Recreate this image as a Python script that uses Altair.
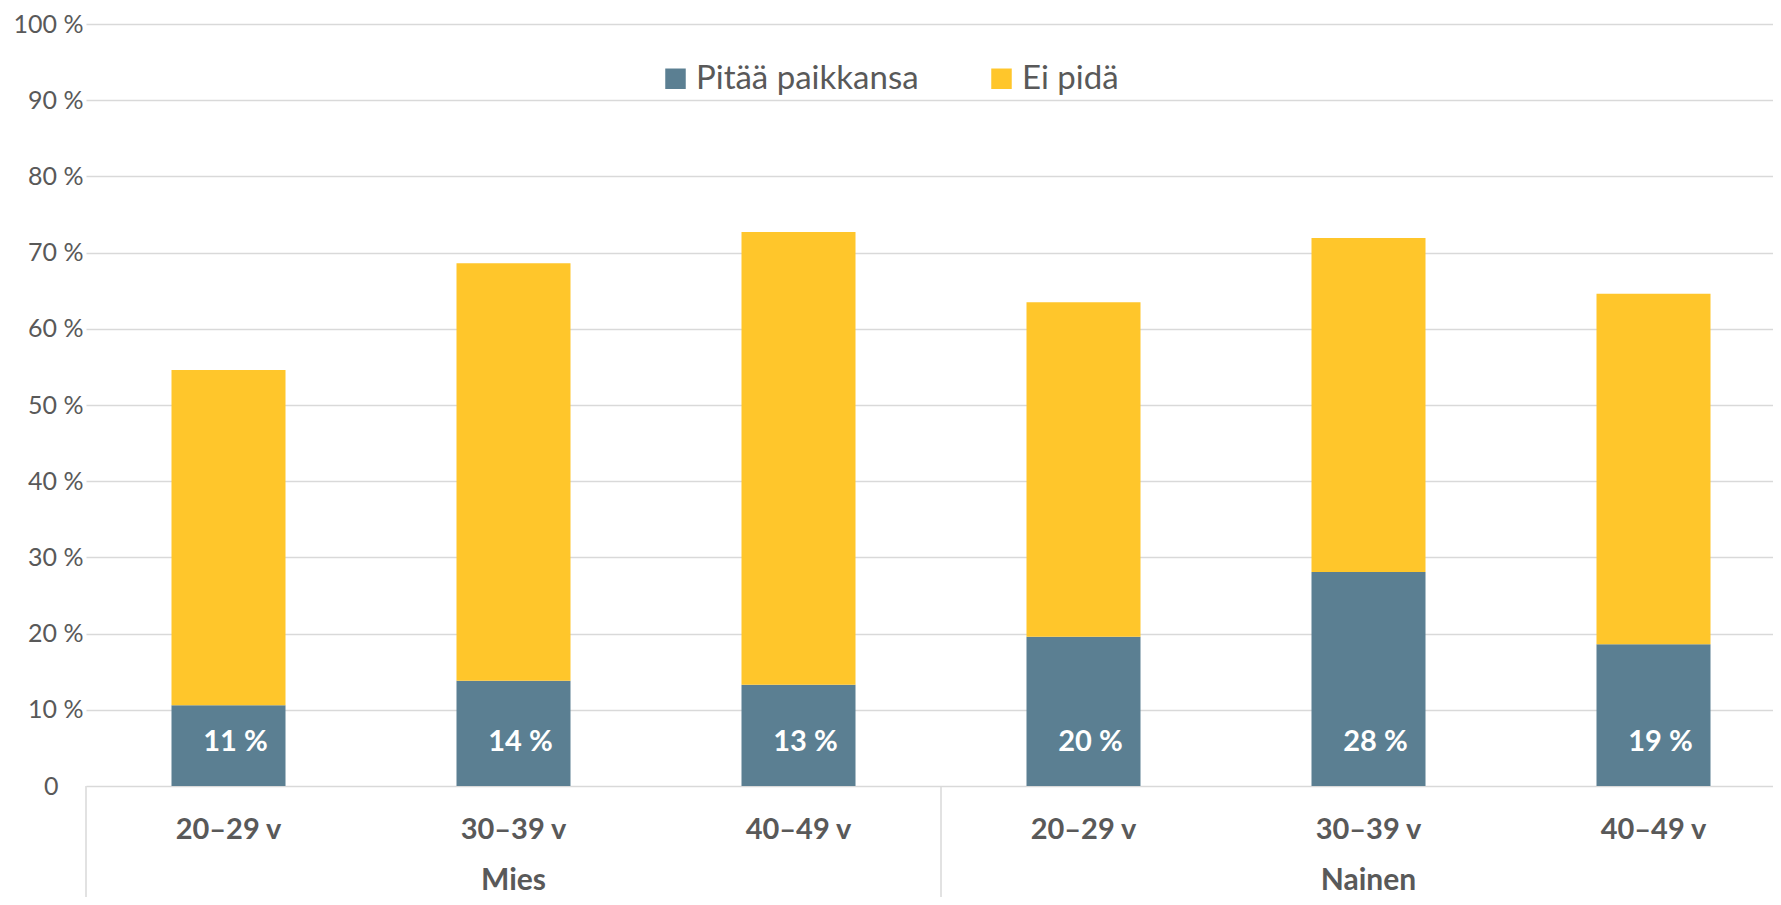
import altair as alt
import pandas as pd

# ---- data ----
genders = ["Mies", "Mies", "Mies", "Nainen", "Nainen", "Nainen"]
ages = ["20–29 v", "30–39 v", "40–49 v", "20–29 v", "30–39 v", "40–49 v"]
pitaa = [10.6, 13.8, 13.3, 19.6, 28.1, 18.6]      # Pitää paikkansa (%)
ei_pida = [44.0, 54.8, 59.4, 43.9, 43.8, 46.0]    # Ei pidä (%)
series_names = ["Pitää paikkansa", "Ei pidä"]
series_colors = ["#5B7F92", "#FFC62B"]
group_names = ["Mies", "Nainen"]
group_mid_age = ["30–39 v", "30–39 v"]
y_ticks = [0, 10, 20, 30, 40, 50, 60, 70, 80, 90, 100]

keys = [g + "|" + a for g, a in zip(genders, ages)]

rows = []
for k, v1, v2 in zip(keys, pitaa, ei_pida):
    rows.append({"key": k, "series": series_names[0], "value": v1, "ord": 0})
    rows.append({"key": k, "series": series_names[1], "value": v2, "ord": 1})
df = pd.DataFrame(rows)

labels_df = pd.DataFrame({"key": keys, "value": pitaa})
groups_df = pd.DataFrame({"key": [g + "|" + a for g, a in zip(group_names, group_mid_age)],
                          "name": group_names})
sep_df = pd.DataFrame({"key": [keys[0], keys[3]]})

FONT = "Lato"
GRAY = "#595959"
PLOT_H = 762
RANGE_W = 1710
STEP = RANGE_W / 6

x_scale = alt.Scale(domain=keys, paddingInner=0.6, paddingOuter=0.3, range=[0, RANGE_W])
y_scale = alt.Scale(domain=[0, 100], nice=False)

x_enc = alt.X("key:N", sort=keys, scale=x_scale, title=None,
              axis=alt.Axis(labelExpr="split(datum.label, '|')[1]", ticks=False, domain=False,
                            labelFont=FONT, labelFontWeight="bold", labelFontSize=29,
                            labelColor=GRAY, labelPadding=29, labelAngle=0, grid=False))

bars = alt.Chart(df).mark_bar().encode(
    x=x_enc,
    y=alt.Y("value:Q", stack="zero", scale=y_scale, title=None,
            axis=alt.Axis(values=y_ticks,
                          labelExpr="datum.value == 0 ? '0' : datum.value + ' %'",
                          domain=False, ticks=False, labelFont=FONT, labelFontSize=25,
                          labelColor=GRAY,
                          labelPadding={"condition": {"test": "datum.value == 0", "value": 28},
                                        "value": 3},
                          grid=True, gridColor="#d9d9d9", gridWidth=1.5)),
    color=alt.Color("series:N", sort=series_names,
                    scale=alt.Scale(domain=series_names, range=series_colors),
                    legend=alt.Legend(title=None, orient="none", direction="horizontal",
                                      legendX=573, legendY=38, symbolType="square",
                                      symbolSize=420, symbolStrokeWidth=0, labelFont=FONT,
                                      labelFontSize=33, labelColor=GRAY, labelOffset=4,
                                      labelLimit=0, columnPadding=66)),
    order=alt.Order("ord:Q", sort="ascending"),
)

bar_labels = alt.Chart(labels_df).mark_text(
    font=FONT, fontWeight="bold", fontSize=29, color="white", baseline="middle",
    align="center", dy=-44, dx=7
).transform_calculate(
    label="format(datum.value, '.0f') + ' %'"
).encode(
    x=alt.X("key:N", sort=keys, scale=x_scale),
    y=alt.datum(0),
    text="label:N",
)

group_labels = alt.Chart(groups_df).mark_text(
    font=FONT, fontWeight="bold", fontSize=30, color=GRAY, baseline="alphabetic", align="center"
).encode(
    x=alt.X("key:N", sort=keys, scale=x_scale),
    y=alt.value(PLOT_H + 104),
    text="name:N",
)

separators = alt.Chart(sep_df).mark_rule(
    color="#d9d9d9", strokeWidth=1.5, xOffset=-0.3 * STEP
).encode(
    x=alt.X("key:N", sort=keys, scale=x_scale, bandPosition=0),
    y=alt.value(PLOT_H),
    y2=alt.value(PLOT_H + 115),
)

chart = alt.layer(bars, bar_labels, separators, group_labels).properties(
    width=1687, height=PLOT_H,
    padding={"left": 78, "top": 16, "right": 0, "bottom": 111},
    autosize=alt.AutoSizeParams(type="none"),
    background="white",
).configure_view(stroke=None)

chart.save("out.html", embed_options={"renderer": "svg", "actions": False})
